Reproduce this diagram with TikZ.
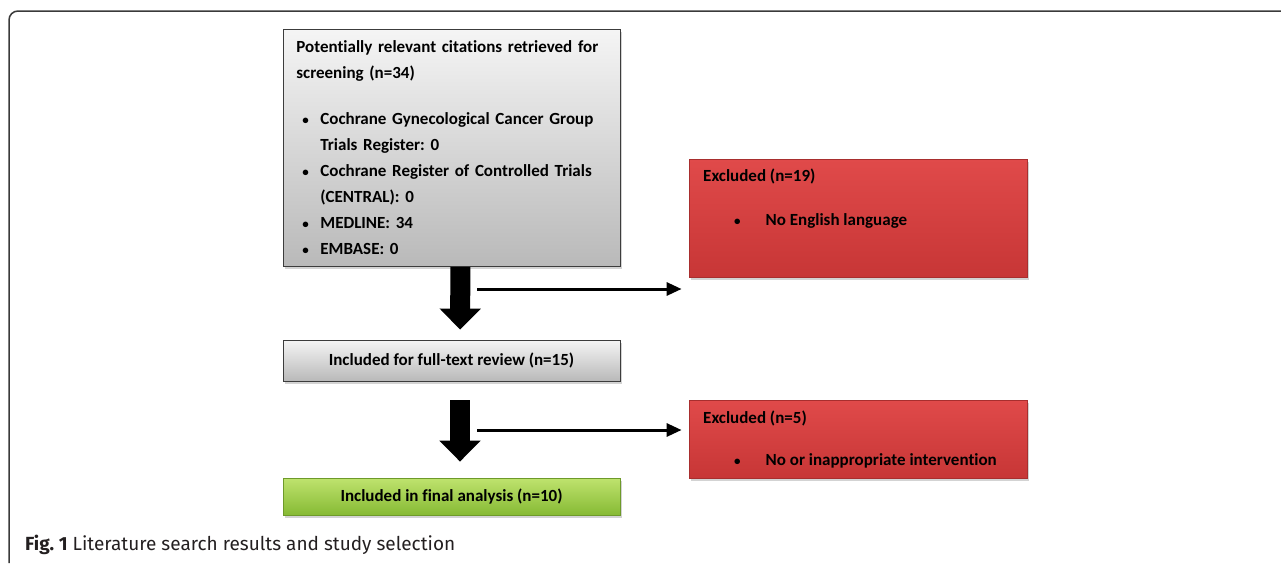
\documentclass[tikz,border=0pt]{standalone}
\usepackage{fontspec}
\setmainfont{Carlito}[Ligatures={NoCommon}]
\newfontfamily\capfont{Fira Sans}[Ligatures={NoCommon}]
\usetikzlibrary{arrows.meta,shadows}

\definecolor{framegray}{HTML}{3A3A3A}
\definecolor{boxedge}{HTML}{3C3C3C}
\definecolor{redtop}{HTML}{E04A4A}
\definecolor{redbot}{HTML}{C73636}
\definecolor{rededge}{HTML}{A82E2E}
\definecolor{greentop}{HTML}{BFE36E}
\definecolor{greenbot}{HTML}{86BA34}
\definecolor{greenedge}{HTML}{6E9A2A}
\definecolor{captext}{HTML}{231F20}

\tikzset{
  every node/.style={font=\fontsize{17}{26}\selectfont\bfseries},
  graybox/.style={draw=boxedge, line width=0.8pt, top color=gray!8, bottom color=gray!55,
    drop shadow={shadow xshift=2pt, shadow yshift=-3pt, opacity=0.35}},
  redbox/.style={draw=rededge, line width=0.8pt, top color=redtop, bottom color=redbot,
    drop shadow={shadow xshift=2pt, shadow yshift=-3pt, opacity=0.35}},
  greenbox/.style={draw=greenedge, line width=0.8pt, top color=greentop, bottom color=greenbot,
    drop shadow={shadow xshift=2pt, shadow yshift=-3pt, opacity=0.35}},
  bigarrow/.style={line width=20pt, -{Triangle[length=21pt,width=40pt]}},
  thinarrow/.style={line width=3pt, -{Triangle[length=15pt,width=13pt]}},
}

\frenchspacing
\newcommand\smallbullet{{\fontsize{13}{13}\selectfont\textbullet}}
\newcommand\blt{\makebox[24pt][l]{\hspace*{6pt}\smallbullet}}

\begin{document}
\begin{tikzpicture}[x=1pt,y=-1pt]
\useasboundingbox (0,0) rectangle (1281,563);

% open frame
\draw[framegray, line width=1.5pt, rounded corners=9pt] (9,563) -- (9,11) -- (1281,11);

% left column
\node[graybox, anchor=north west, minimum width=337pt, minimum height=237pt,
      inner xsep=13pt, text width=311pt, align=left] (search) at (283,29)
  {Potentially relevant citations retrieved for\\
   screening (n=34)\\[20pt]
   \blt Cochrane Gynecological Cancer Group\\
   \hspace*{24pt}Trials Register: 0\\
   \blt Cochrane Register of Controlled Trials\\
   \hspace*{24pt}(CENTRAL): 0\\
   \blt MEDLINE: 34\\
   \blt EMBASE: 0};

\node[graybox, minimum width=337pt, minimum height=41pt] (review) at (451.5,360.5)
  {Included for full-text review (n=15)};

\node[greenbox, minimum width=337pt, minimum height=37pt] (final) at (451.5,496.5)
  {Included in final analysis (n=10)};

% right column
\node[redbox, minimum width=338pt, minimum height=118pt] (excl1) at (858,218) {};
\node[anchor=north west, align=left, inner sep=0pt] (excl1txt) at (703,169)
  {Excluded (n=19)\\[18pt]
   \hspace*{31pt}\smallbullet\hspace*{25pt}No English language};

\node[redbox, minimum width=338pt, minimum height=78pt] (excl2) at (858,439) {};
\node[anchor=north west, align=left, inner sep=0pt] (excl2txt) at (703,411)
  {Excluded (n=5)\\[16pt]
   \hspace*{31pt}\smallbullet\hspace*{25pt}No or inappropriate intervention};

% arrows
\draw[bigarrow, shorten >=10pt] ([xshift=8.5pt]search.south) -- ([xshift=8.5pt]review.north);
\draw[bigarrow, shorten <=19pt, shorten >=16pt] ([xshift=8.5pt]review.south) -- ([xshift=8.5pt]final.north);

\coordinate (out1) at (477,289);
\coordinate (out2) at (477,430);
\draw[thinarrow, shorten >=7pt] (out1) -- (out1 -| excl1.west);
\draw[thinarrow, shorten >=7pt] (out2) -- (out2 -| excl2.west);

% caption
\node[anchor=west, inner sep=0pt, font=\capfont\fontsize{19}{22}\selectfont, text=captext] (caption) at (25,545)
  {\textbf{Fig. 1} Literature search results and study selection};

\end{tikzpicture}
\end{document}
